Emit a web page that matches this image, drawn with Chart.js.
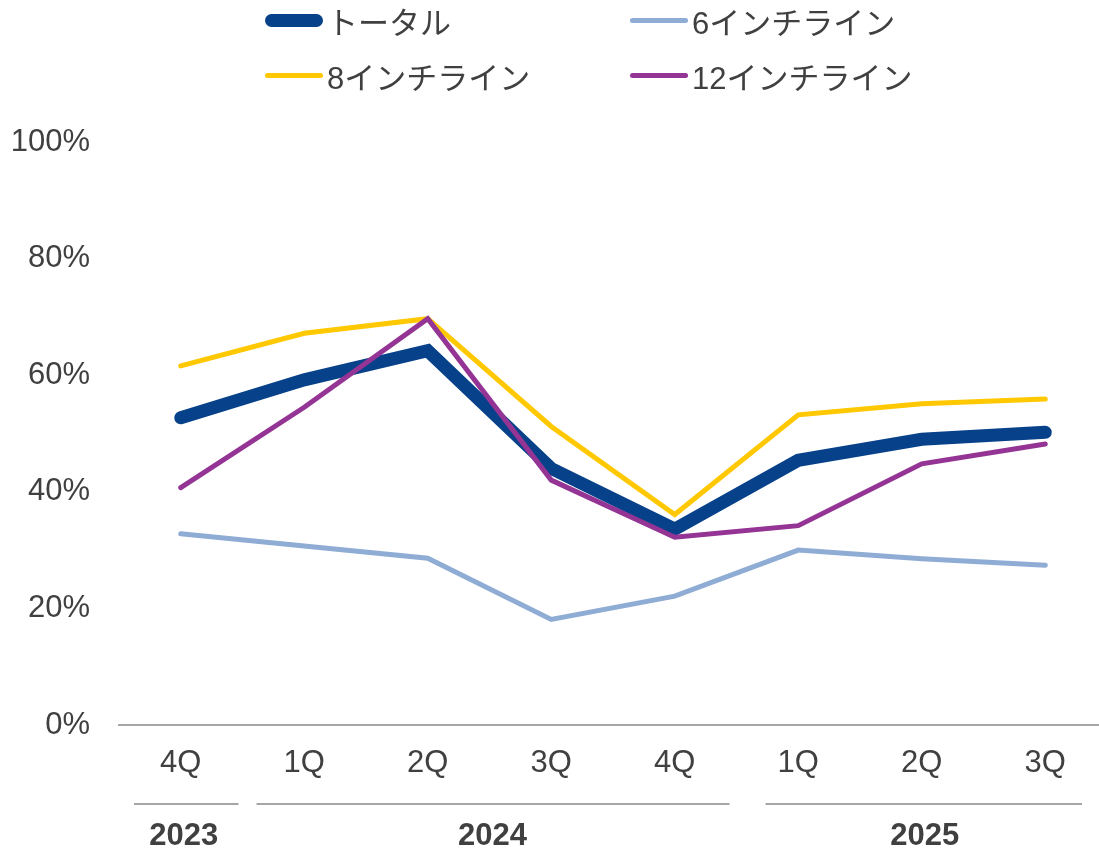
<!DOCTYPE html>
<html>
<head>
<meta charset="utf-8">
<script src="https://cdn.jsdelivr.net/npm/chart.js@4"></script>
<style>
  html, body { margin: 0; padding: 0; background: #fff; overflow: hidden; width: 1099px; height: 852px; }
  #wrap { position: relative; width: 1107px; height: 852px; }
  #legend { position: absolute; left: 0; top: 0; width: 1099px; height: 110px; }
  .item { position: absolute; height: 40px; display: flex; align-items: center;
          font-family: "Liberation Sans", "Noto Sans CJK JP", sans-serif; font-size: 31px; color: #404040; }
  .item span.swatch { display: inline-block; width: 58px; border-radius: 8px; margin-right: 4px; }
</style>
</head>
<body>
<div id="wrap">
  <canvas id="lineChart" width="1107" height="852"></canvas>
  <div id="legend"></div>
</div>
<script>
// categories and values
const quarters = ['4Q', '1Q', '2Q', '3Q', '4Q', '1Q', '2Q', '3Q'];
const years = ['2023', '2024', '2025'];
const quartersPerYear = [1, 4, 3];

const total = [52.7, 59.2, 64.2, 44.0, 33.6, 45.4, 49.0, 50.2];
const inch6 = [32.8, 30.7, 28.6, 18.1, 22.1, 30.0, 28.5, 27.4];
const inch8 = [61.6, 67.2, 69.7, 51.2, 36.1, 53.2, 55.1, 55.9];
const inch12 = [40.7, 54.5, 69.7, 42.0, 32.2, 34.2, 44.8, 48.2];

const seriesNames = ['トータル', '6インチライン', '8インチライン', '12インチライン'];
const yTicks = [0, 20, 40, 60, 80, 100];

const textColor = '#404040';
const axisColor = '#A6A6A6';
const fontFamily = '"Liberation Sans", "Noto Sans CJK JP", sans-serif';

// legend, laid out as in the reference (2 x 2)
const legendSpots = [
  { left: 265, top: 0, color: '#07418A', thick: 13 },
  { left: 630, top: 0, color: '#8EACD4', thick: 5 },
  { left: 265, top: 55, color: '#FFC800', thick: 5 },
  { left: 630, top: 55, color: '#943494', thick: 5 }
];
const legendBox = document.getElementById('legend');
seriesNames.forEach((name, i) => {
  const s = legendSpots[i];
  const div = document.createElement('div');
  div.className = 'item';
  div.style.left = s.left + 'px';
  div.style.top = s.top + 'px';
  const sw = document.createElement('span');
  sw.className = 'swatch';
  sw.style.height = s.thick + 'px';
  sw.style.background = s.color;
  div.appendChild(sw);
  div.appendChild(document.createTextNode(name));
  legendBox.appendChild(div);
});

// separator insets for the year row (left, right)
const sepInsetL = [15, 14, 29];
const sepInsetR = [4, 7, 25];

// draws the year row under the quarter labels
const yearRow = {
  id: 'yearRow',
  afterDraw(chart) {
    const ctx = chart.ctx;
    const x = chart.scales.x;
    const step = x.getPixelForValue(1) - x.getPixelForValue(0);
    let start = 0;
    ctx.save();
    years.forEach((yr, i) => {
      const n = quartersPerYear[i];
      const left = x.getPixelForValue(start) - step / 2;
      const right = x.getPixelForValue(start + n - 1) + step / 2;
      ctx.strokeStyle = axisColor;
      ctx.lineWidth = 2;
      ctx.beginPath();
      ctx.moveTo(left + sepInsetL[i], 804);
      ctx.lineTo(right - sepInsetR[i], 804);
      ctx.stroke();
      ctx.fillStyle = textColor;
      ctx.font = 'bold 31px ' + fontFamily;
      ctx.textAlign = 'center';
      ctx.textBaseline = 'middle';
      ctx.fillText(yr, (left + right) / 2 + 3, 836);
      start += n;
    });
    ctx.restore();
  }
};

const ds = (label, data, color, width, order) => ({
  label: label,
  data: data,
  borderColor: color,
  backgroundColor: color,
  borderWidth: width,
  borderCapStyle: 'round',
  borderJoinStyle: 'miter',
  pointRadius: 0,
  pointHoverRadius: 0,
  tension: 0,
  order: order
});

new Chart(document.getElementById('lineChart').getContext('2d'), {
  type: 'line',
  data: {
    labels: quarters,
    datasets: [
      ds(seriesNames[0], total, '#07418A', 13, 4),
      ds(seriesNames[1], inch6, '#8EACD4', 5, 3),
      ds(seriesNames[2], inch8, '#FFC800', 5, 2),
      ds(seriesNames[3], inch12, '#943494', 5, 1)
    ]
  },
  options: {
    responsive: false,
    animation: false,
    layout: { padding: { top: 142, left: 0, right: 0, bottom: 0 } },
    plugins: {
      legend: { display: false },
      tooltip: { enabled: false }
    },
    scales: {
      x: {
        offset: true,
        grid: { display: false, drawTicks: false },
        border: { display: true, color: axisColor, width: 2 },
        ticks: {
          color: textColor,
          font: { family: fontFamily, size: 31 },
          padding: 20,
          maxRotation: 0,
          autoSkip: false
        },
        afterFit(scale) { scale.height = 127; }
      },
      y: {
        min: 0,
        max: 100,
        afterBuildTicks(scale) { scale.ticks = yTicks.map(v => ({ value: v })); },
        grid: { display: false, drawTicks: false },
        border: { display: false },
        ticks: {
          color: textColor,
          font: { family: fontFamily, size: 31 },
          padding: 29,
          callback: v => v + '%'
        },
        afterFit(scale) { scale.width = 119; }
      }
    }
  },
  plugins: [yearRow]
});
</script>
</body>
</html>
